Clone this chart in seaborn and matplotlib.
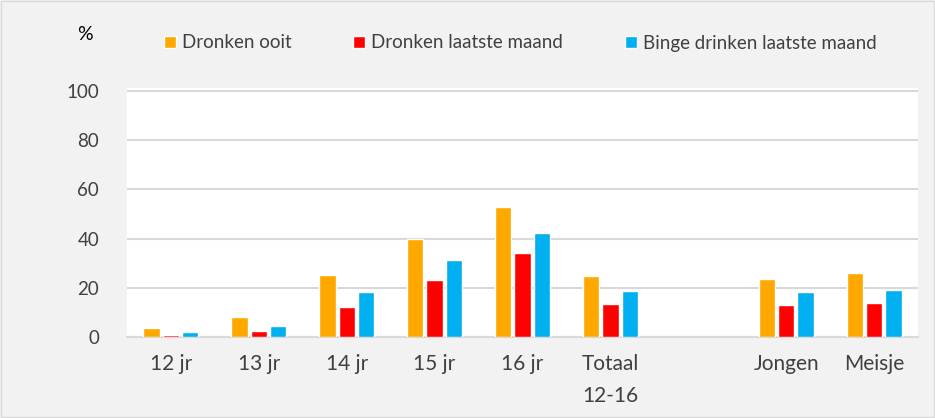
import numpy as np
import pandas as pd
import matplotlib.pyplot as plt
import seaborn as sns

# chart data
categories = ['12 jr', '13 jr', '14 jr', '15 jr', '16 jr', 'Totaal\n12-16', '', 'Jongen', 'Meisje']
series = ['Dronken ooit', 'Dronken laatste maand', 'Binge drinken laatste maand']
dronken_ooit = [3.8, 8.3, 25.4, 39.9, 53.0, 24.9, np.nan, 23.4, 26.2]
dronken_maand = [1.0, 2.4, 12.1, 23.0, 34.2, 13.5, np.nan, 13.2, 13.9]
binge_maand = [2.2, 4.6, 18.2, 31.1, 42.1, 18.5, np.nan, 18.1, 18.9]
colors = ['#FFA800', '#FF0000', '#00B0F0']

# long format for seaborn
df = pd.DataFrame({
    'cat': categories * 3,
    'serie': [s for s in series for _ in categories],
    'val': dronken_ooit + dronken_maand + binge_maand,
})

sns.set_style('white')
plt.rcParams['font.family'] = ['Lato', 'DejaVu Sans']

fig = plt.figure(figsize=(9.35, 4.18), dpi=100, facecolor='#f2f2f2')
ax = fig.add_axes([127 / 935, 81 / 418, 791 / 935, 249 / 418])
ax.set_facecolor('white')

sns.barplot(data=df, x='cat', y='val', hue='serie', order=categories, hue_order=series,
            palette=colors, width=0.66, gap=0.16, ax=ax, saturation=1, zorder=3)

ax.set_ylim(0, 101.2)
ax.set_xlim(-0.5, len(categories) - 0.5)
ax.set_yticks([0, 20, 40, 60, 80, 100])
ax.yaxis.grid(True, color='#d9d9d9', linewidth=1.5, zorder=0)
ax.set_axisbelow(True)
for side in ['top', 'left', 'right']:
    ax.spines[side].set_visible(False)
ax.spines['bottom'].set_color('#d9d9d9')
ax.spines['bottom'].set_linewidth(1.5)
ax.spines['bottom'].set_zorder(1)
ax.tick_params(axis='both', length=0, labelcolor='#404040')
ax.tick_params(axis='y', pad=20, labelsize=13.5)
ax.tick_params(axis='x', pad=12, labelsize=15)
for lbl in ax.get_xticklabels():
    lbl.set_linespacing(1.75)
ax.set_xlabel('')
ax.set_ylabel('')

# legend on top
handles, labels = ax.get_legend_handles_labels()
ax.get_legend().remove()
fig.legend(handles, labels, loc='center left', bbox_to_anchor=(147 / 935, (418 - 43) / 418),
           ncol=3, frameon=False, fontsize=13.5, handlelength=0.65, handleheight=0.65,
           handletextpad=0.3, columnspacing=3.3, labelcolor='#404040')
fig.text(85 / 935, (418 - 35) / 418, '%', fontsize=14, color='black', ha='center', va='center')

# thin border round the figure
fig.patches.append(plt.Rectangle((0.001, 0.002), 0.998, 0.996, transform=fig.transFigure,
                                 fill=False, edgecolor='#d9d9d9', linewidth=1))

fig.savefig('out.png', dpi=100, facecolor=fig.get_facecolor())
